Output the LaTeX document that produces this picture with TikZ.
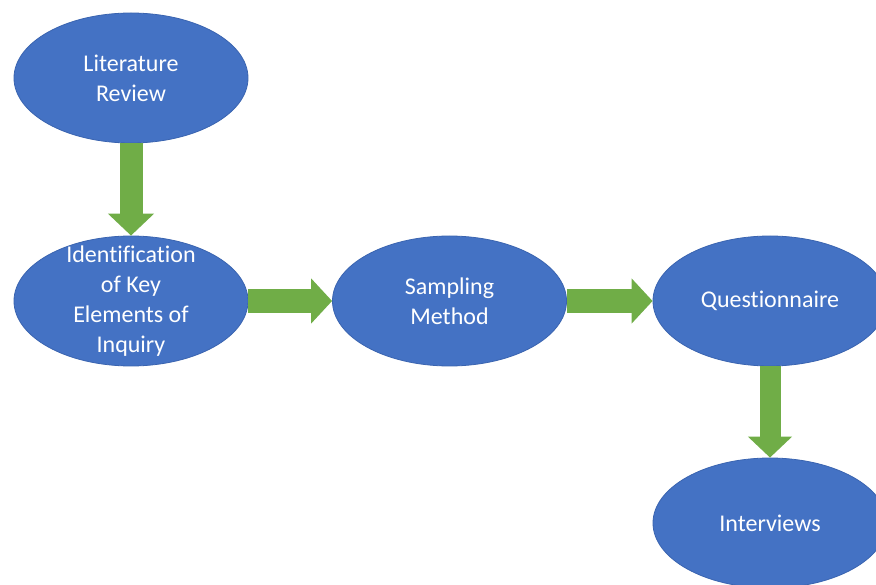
\documentclass[tikz,border=0pt]{standalone}
\usepackage{fontspec}
\setmainfont[Ligatures={NoCommon}]{Carlito}
\usetikzlibrary{shapes.geometric,arrows.meta}
\definecolor{blu}{HTML}{4472C4}
\definecolor{blub}{HTML}{3A64B0}
\definecolor{grn}{HTML}{70AD47}
\tikzset{
  oval/.style={ellipse, fill=blu, draw=blub, line width=0.8pt, inner sep=0pt,
    minimum width=234pt, minimum height=130pt},
  lbl/.style={text=white, align=center, font=\fontsize{24pt}{30pt}\selectfont},
  blockarrow/.style={draw=grn, line cap=butt}
}
\begin{document}
\begin{tikzpicture}[x=1pt,y=-1pt]
\useasboundingbox (0,0) rectangle (876,585);
\clip (0,0) rectangle (876,585);
\fill[white] (0,0) rectangle (876,585);
\node[oval] (lit) at (131,78) {};
\node[oval] (ident) at (131,301) {};
\node[oval] (samp) at (449.5,301) {};
\node[oval] (quest) at (770,301) {};
\node[oval] (inter) at (770,523) {};
\node[lbl] (tlit) at (lit.center) {Literature\\Review};
\node[lbl] (tident) at (ident.center) {Identification\\of Key\\Elements of\\Inquiry};
\node[lbl] (tsamp) at (samp.center) {Sampling\\Method};
\node[lbl] (tquest) at (quest.center) {Questionnaire};
\node[lbl] (tinter) at (inter.center) {Interviews};
\draw[blockarrow, line width=23pt, -{Triangle[width=45pt,length=22pt]}] (lit.south) -- (ident.north);
\draw[blockarrow, line width=24pt, -{Triangle[width=44pt,length=21pt]}] (ident.east) -- (samp.west);
\draw[blockarrow, line width=24pt, -{Triangle[width=44pt,length=21pt]}] (samp.east) -- (quest.west);
\draw[blockarrow, line width=21pt, -{Triangle[width=43pt,length=21pt]}] (quest.south) -- (inter.north);
\end{tikzpicture}
\end{document}
